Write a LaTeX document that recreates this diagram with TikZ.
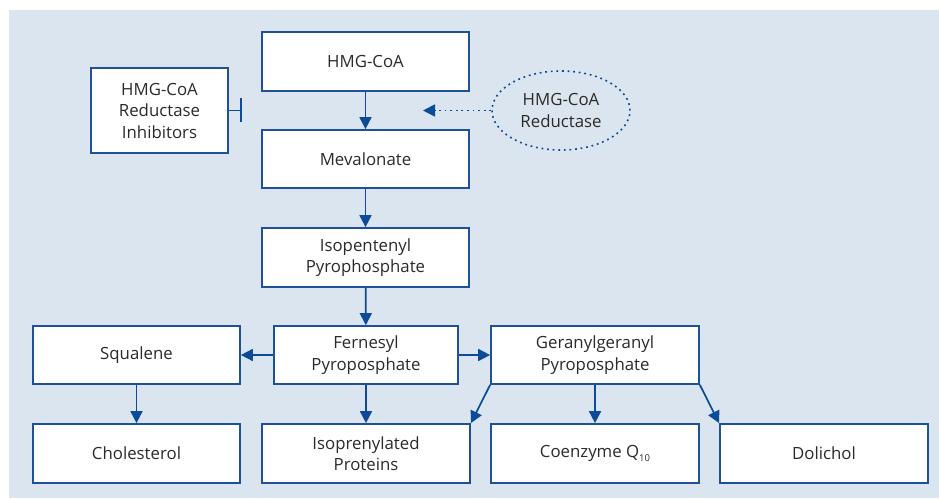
\documentclass[tikz,border=0pt]{standalone}
\usepackage{fontspec}
\setmainfont{Open Sans}
\usetikzlibrary{arrows.meta,shapes.geometric}
\definecolor{bgc}{HTML}{DBE5EF}
\definecolor{bord}{HTML}{1F5198}
\definecolor{arr}{HTML}{0B4B98}
\definecolor{txt}{HTML}{2A2A2A}
\begin{document}
\begin{tikzpicture}[x=1pt,y=-1pt,
  every node/.style={font=\fontsize{16.8}{21.5}\selectfont, text=txt, align=center, inner sep=0pt},
  stepbox/.style={draw=bord, line width=1.7pt, fill=white, rectangle},
  flow/.style={draw=arr, line width=1.7pt, -{Triangle[length=12pt,width=12pt]}},
  dotline/.style={draw=arr, line width=1.6pt, dash pattern=on 1.8pt off 3.8pt}]
\useasboundingbox (0,0) rectangle (939,500);
\fill[bgc] (9,10) rectangle (939,498);
\node[stepbox, minimum width=207pt, minimum height=59pt] (hmg) at (365.5,61.5) {HMG-CoA};
\node[stepbox, minimum width=137pt, minimum height=85pt] (inh) at (159.5,110.5) {HMG-CoA\\Reductase\\Inhibitors};
\node[stepbox, minimum width=207pt, minimum height=58pt] (mev) at (365.5,159) {Mevalonate};
\node[ellipse, dotline, fill=bgc, minimum width=138pt, minimum height=79pt] (ell) at (561,110.5) {HMG-CoA\\Reductase};
\node[stepbox, minimum width=207pt, minimum height=59pt] (iso) at (365.5,257.5) {Isopentenyl\\Pyrophosphate};
\node[stepbox, minimum width=207pt, minimum height=58pt] (squ) at (136.5,355) {Squalene};
\node[stepbox, minimum width=184pt, minimum height=58pt] (fer) at (366,355) {Fernesyl\\Pyroposphate};
\node[stepbox, minimum width=208pt, minimum height=58pt] (ger) at (595,355) {Geranylgeranyl\\Pyroposphate};
\node[stepbox, minimum width=207pt, minimum height=59pt] (cho) at (136.5,453.5) {Cholesterol};
\node[stepbox, minimum width=208pt, minimum height=59pt] (ipr) at (366,453.5) {Isoprenylated\\Proteins};
\node[stepbox, minimum width=208pt, minimum height=59pt] (coe) at (595,453.5) {Coenzyme Q\raisebox{-0.45ex}{\fontsize{9.5}{9.5}\selectfont 10}};
\node[stepbox, minimum width=208pt, minimum height=59pt] (dol) at (824,453.5) {Dolichol};
\coordinate (bar) at (242,110.5);
\coordinate (tip) at (423,110.5);
\draw[flow] (hmg) -- (mev);
\draw[flow] (mev) -- (iso);
\draw[flow] (iso) -- (fer);
\draw[flow] (fer) -- (squ);
\draw[flow] (fer) -- (ger);
\draw[flow] (squ) -- (cho);
\draw[flow] (fer) -- (ipr);
\draw[flow] (ger) -- (coe);
\draw[flow] (ger.south west) -- (ipr.north east);
\draw[flow] (ger.south east) -- (dol.north west);
\draw[draw=arr, line width=1.7pt, -{Bar[width=24pt,line width=2.4pt]}] (inh.east) -- (bar);
\draw[dotline, -{Triangle[length=12pt,width=12pt,sep=0pt]}] (ell.west) -- (tip);
\end{tikzpicture}
\end{document}
